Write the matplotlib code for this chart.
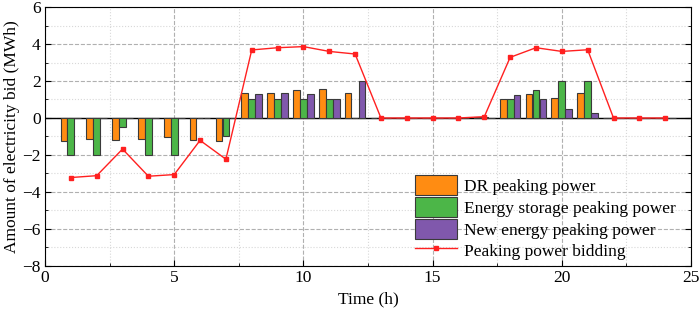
import numpy as np
import matplotlib
matplotlib.use('Agg')
import matplotlib.pyplot as plt
from matplotlib.ticker import MultipleLocator

plt.rcParams['font.family'] = ['Liberation Serif', 'DejaVu Serif']
plt.rcParams['font.size'] = 12.5

hours = np.arange(1, 25)
# DR / storage / new energy peaking power (MWh)
dr = [-1.22, -1.12, -1.2, -1.15, -1.05, -1.2, -1.26, 1.33, 1.37, 1.5, 1.59, 1.37,
      0, 0, 0, 0, 0.03, 1.0, 1.28, 1.08, 1.37, 0, 0, 0]
storage = [-2.0, -2.0, -0.5, -2.0, -2.0, 0, -1.0, 1.0, 1.0, 1.0, 1.0, 0.02,
           0, 0, 0, 0, 0.03, 1.0, 1.5, 1.98, 2.0, 0, 0, 0]
new_energy = [0, 0, 0, 0, 0, 0, 0, 1.28, 1.37, 1.32, 1.0, 1.98,
              0, 0, 0, 0, 0.02, 1.24, 1.0, 0.49, 0.27, 0, 0, 0]
bidding = [-3.22, -3.12, -1.68, -3.15, -3.06, -1.21, -2.23, 3.68, 3.80, 3.86, 3.60, 3.46,
           0, 0, 0, 0, 0.07, 3.28, 3.80, 3.60, 3.69, 0, 0, 0]

fig = plt.figure(figsize=(6.99, 3.2), dpi=100)
ax = fig.add_axes([0.0644, 0.169, 0.9242, 0.809])

w = 0.26
edge = '#3a3a3a'
b1 = ax.bar(hours - 0.27, dr, w, color='#ff8c12', edgecolor=edge, linewidth=0.8,
            label='DR peaking power', zorder=3)
b2 = ax.bar(hours, storage, w, color='#4cb648', edgecolor=edge, linewidth=0.8,
            label='Energy storage peaking power', zorder=3)
b3 = ax.bar(hours + 0.27, new_energy, w, color='#8058ac', edgecolor=edge, linewidth=0.8,
            label='New energy peaking power', zorder=3)
l1, = ax.plot(hours, bidding, color='#ff2020', marker='s', markersize=3.5, linewidth=1,
              label='Peaking power bidding', zorder=4)
ax.axhline(0, color='black', linewidth=1, zorder=2)

ax.set_xlim(0, 25)
ax.set_ylim(-8, 6)
ax.xaxis.set_major_locator(MultipleLocator(5))
ax.xaxis.set_minor_locator(MultipleLocator(2.5))
ax.yaxis.set_major_locator(MultipleLocator(2))
ax.yaxis.set_minor_locator(MultipleLocator(1))
ax.tick_params(which='both', direction='in', top=False, right=True, pad=3)
ax.tick_params(which='major', length=4)
ax.tick_params(which='minor', length=2.5)
ax.grid(which='major', linestyle='--', color='#b0b0b0', linewidth=0.8, zorder=0)
ax.grid(which='minor', linestyle=':', color='#d8d8d8', linewidth=0.8, zorder=0)
ax.set_axisbelow(True)

ax.set_xlabel('Time (h)')
ax.set_ylabel('Amount of electricity bid (MWh)', labelpad=2)

ax.legend([b1, b2, b3, l1],
          ['DR peaking power', 'Energy storage peaking power',
           'New energy peaking power', 'Peaking power bidding'],
          loc='lower right', bbox_to_anchor=(1.0, -0.04), frameon=False,
          handlelength=2.4, handleheight=1.4, labelspacing=0.1,
          handletextpad=0.4, fontsize=12.5)

fig.savefig('out.png', dpi=100)
